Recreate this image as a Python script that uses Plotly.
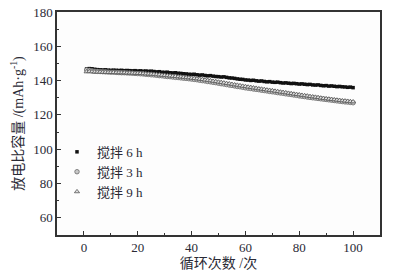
import plotly.graph_objects as go

cycles = list(range(1, 101))

cap_6h = [
    146.8, 147.0, 146.9, 146.6, 146.4, 146.3, 146.2, 146.3, 146.1, 146.0,
    146.1, 146.0, 145.9, 146.0, 145.8, 145.9, 145.8, 145.7, 145.8, 145.6,
    145.7, 145.5, 145.6, 145.4, 145.5, 145.3, 145.1, 145.2, 144.9, 144.8,
    144.9, 144.6, 144.5, 144.6, 144.3, 144.2, 144.0, 143.9, 143.7, 143.6,
    143.7, 143.4, 143.2, 143.3, 143.0, 142.8, 142.9, 142.6, 142.4, 142.3,
    142.1, 142.2, 141.9, 141.6, 141.5, 141.3, 141.0, 140.8, 140.7, 140.4,
    140.3, 140.1, 140.2, 139.9, 139.7, 139.8, 139.5, 139.3, 139.4, 139.1,
    139.0, 139.1, 138.8, 138.6, 138.7, 138.5, 138.3, 138.4, 138.2, 138.0,
    138.1, 137.9, 137.7, 137.8, 137.5, 137.4, 137.5, 137.2, 137.0, 137.1,
    136.8, 136.9, 136.7, 136.5, 136.6, 136.4, 136.3, 136.1, 136.2, 135.9,
]

cap_3h = [
    146.2, 146.0, 145.7, 145.5, 145.4, 145.3, 145.2, 145.1, 145.0, 144.9,
    144.9, 144.8, 144.7, 144.6, 144.6, 144.5, 144.4, 144.3, 144.2, 144.1,
    144.0, 143.9, 143.7, 143.6, 143.4, 143.3, 143.1, 142.9, 142.8, 142.6,
    142.4, 142.3, 142.1, 141.9, 141.8, 141.6, 141.4, 141.3, 141.1, 140.9,
    140.7, 140.5, 140.2, 140.0, 139.8, 139.5, 139.3, 139.0, 138.8, 138.5,
    138.2, 138.0, 137.7, 137.4, 137.2, 136.9, 136.6, 136.4, 136.1, 135.8,
    135.6, 135.4, 135.1, 134.9, 134.7, 134.4, 134.2, 134.0, 133.7, 133.5,
    133.3, 133.0, 132.8, 132.6, 132.3, 132.1, 131.9, 131.6, 131.4, 131.1,
    130.9, 130.7, 130.4, 130.2, 130.0, 129.8, 129.6, 129.4, 129.2, 129.0,
    128.8, 128.6, 128.4, 128.2, 128.0, 127.8, 127.6, 127.5, 127.3, 127.1,
]

cap_9h = [
    145.2, 145.3, 145.2, 145.1, 145.0, 145.0, 144.9, 144.9, 144.8, 144.8,
    144.8, 144.7, 144.7, 144.6, 144.6, 144.5, 144.5, 144.4, 144.3, 144.3,
    144.2, 144.1, 144.0, 143.9, 143.8, 143.7, 143.5, 143.4, 143.2, 143.1,
    142.9, 142.8, 142.6, 142.5, 142.3, 142.2, 142.0, 141.8, 141.7, 141.5,
    141.3, 141.1, 140.9, 140.7, 140.4, 140.2, 140.0, 139.7, 139.5, 139.2,
    139.0, 138.7, 138.4, 138.2, 137.9, 137.6, 137.4, 137.1, 136.8, 136.6,
    136.3, 136.1, 135.8, 135.6, 135.3, 135.1, 134.9, 134.6, 134.4, 134.2,
    133.9, 133.7, 133.4, 133.2, 133.0, 132.7, 132.5, 132.2, 132.0, 131.8,
    131.5, 131.3, 131.1, 130.8, 130.6, 130.4, 130.2, 129.9, 129.7, 129.5,
    129.3, 129.1, 128.9, 128.7, 128.5, 128.3, 128.2, 128.0, 127.8, 127.7,
]

series_names = ["搅拌 6 h", "搅拌 3 h", "搅拌 9 h"]

FONT = "Liberation Serif, Noto Sans CJK SC, serif"
TXT = "#2a2a35"

fig = go.Figure()
fig.add_trace(go.Scatter(
    x=cycles, y=cap_6h, name=series_names[0], mode="markers",
    marker=dict(symbol="square", size=3.5, color="#111111"),
))
fig.add_trace(go.Scatter(
    x=cycles, y=cap_3h, name=series_names[1], mode="markers",
    marker=dict(symbol="circle", size=4.5, color="#c8c8c8", line=dict(color="#6a6a6a", width=0.8)),
))
fig.add_trace(go.Scatter(
    x=cycles, y=cap_9h, name=series_names[2], mode="markers",
    marker=dict(symbol="triangle-up", size=4.5, color="#e0e0e0", line=dict(color="#555555", width=0.8)),
))

axis_common = dict(
    showline=True, linecolor="#333333", linewidth=1.5, mirror=True,
    ticks="inside", ticklen=4, tickwidth=1, tickcolor="#333333",
    showgrid=False, zeroline=False, automargin=False,
    tickfont=dict(family=FONT, size=13, color=TXT),
)

fig.update_xaxes(
    range=[-10, 110], tick0=0, dtick=20,
    minor=dict(ticks="inside", ticklen=2.5, dtick=10, tick0=0, tickcolor="#333333"),
    title=dict(text="循环次数 /次", font=dict(family=FONT, size=14, color=TXT), standoff=4),
    **axis_common,
)
fig.update_yaxes(
    range=[50, 180], tick0=0, dtick=20,
    minor=dict(ticks="inside", ticklen=2.5, dtick=10, tick0=0, tickcolor="#333333"),
    title=dict(text="放电比容量 /(mAh·g<sup>-1</sup>)", font=dict(family=FONT, size=14, color=TXT), standoff=6),
    ticklabeloverflow="allow",
    **axis_common,
)

fig.update_layout(
    width=393, height=277,
    margin=dict(l=57, r=13, t=12, b=42),
    paper_bgcolor="white", plot_bgcolor="#fdfdfd",
    font=dict(family=FONT, size=13, color=TXT),
    legend=dict(
        x=0.0, y=0.44, xanchor="left", yanchor="top",
        bgcolor="rgba(0,0,0,0)", borderwidth=0,
        font=dict(family=FONT, size=13, color=TXT),
        itemwidth=30, tracegroupgap=0,
    ),
    showlegend=True,
)

fig.write_html(
    "out.html",
    config={"displayModeBar": False},
    post_script="document.body.style.margin='0';",
)
